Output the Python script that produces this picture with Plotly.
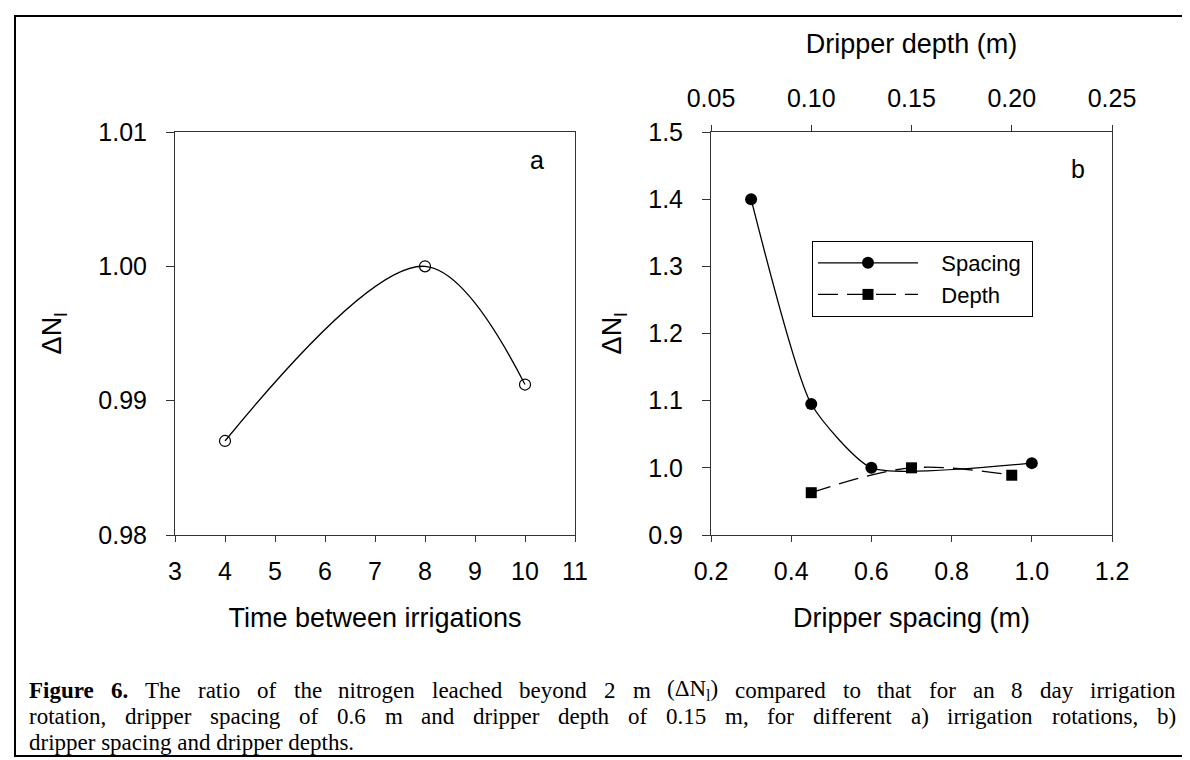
import plotly.graph_objects as go

# ---- data ----
time_days = [4, 8, 10]
ratio_time = [0.987, 1.000, 0.9912]

spacing_m = [0.3, 0.45, 0.6, 1.0]
ratio_spacing = [1.400, 1.095, 1.000, 1.007]

depth_m = [0.10, 0.15, 0.20]
ratio_depth = [0.963, 1.000, 0.989]

W, H = 1190, 760
def px(x): return x / W
def py(y): return 1 - y / H

SANS = "Liberation Sans, Arial, sans-serif"
SERIF = "Liberation Serif, Times New Roman, serif"
AX = dict(family=SANS, size=25, color="black")
TITLE = dict(family=SANS, size=27, color="black")
LINEC = "#333333"

fig = go.Figure()

fig.add_trace(go.Scatter(x=time_days, y=ratio_time, mode="lines+markers",
                         line=dict(color="black", width=1.3, shape="spline", smoothing=1.0),
                         marker=dict(symbol="circle-open", size=11, color="black", line=dict(width=1.2)),
                         showlegend=False, xaxis="x", yaxis="y"))

fig.add_trace(go.Scatter(x=spacing_m, y=ratio_spacing, mode="lines+markers",
                         name="\u00a0\u00a0\u00a0Spacing\u00a0",
                         line=dict(color="black", width=1.3, shape="spline", smoothing=0.55),
                         marker=dict(symbol="circle", size=12, color="black"),
                         xaxis="x2", yaxis="y2"))

fig.add_trace(go.Scatter(x=depth_m, y=ratio_depth, mode="lines+markers",
                         name="\u00a0\u00a0\u00a0Depth",
                         line=dict(color="black", width=1.3, dash="20px,9px", shape="spline", smoothing=1.0),
                         marker=dict(symbol="square", size=11, color="black"),
                         xaxis="x3", yaxis="y2"))

common = dict(showline=True, linecolor=LINEC, linewidth=1, tickcolor=LINEC,
              showgrid=False, zeroline=False, tickfont=AX, automargin=False)

ya = [124, 527]
fig.update_layout(
    width=W, height=H,
    margin=dict(l=0, r=0, t=0, b=0),
    paper_bgcolor="white", plot_bgcolor="white",
    font=AX,
    xaxis=dict(domain=[px(167), px(567)], range=[3, 11], dtick=1, anchor="y", mirror=True,
               ticks="outside", ticklen=6, ticklabelstandoff=8,
               title=dict(text="Time between irrigations", font=TITLE, standoff=24), **common),
    yaxis=dict(domain=[py(ya[1]), py(ya[0])], range=[0.98, 1.01], dtick=0.01, tickformat=".2f",
               anchor="x", mirror=True, ticks="outside", ticklen=8, ticklabelstandoff=14,
               title=dict(text="ΔN<sub>l</sub>", font=TITLE, standoff=28), **common),
    xaxis2=dict(domain=[px(703), px(1104)], range=[0.2, 1.2], dtick=0.2, tickformat=".1f", anchor="y2",
                ticks="outside", ticklen=6, ticklabelstandoff=8,
                title=dict(text="Dripper spacing (m)", font=TITLE, standoff=24), **common),
    xaxis3=dict(overlaying="x2", side="top", range=[0.05, 0.25], dtick=0.05, tickformat=".2f",
                anchor="y2", ticks="outside", ticklen=6, ticklabelstandoff=8,
                title=dict(text="Dripper depth (m)", font=TITLE, standoff=22), **common),
    yaxis2=dict(domain=[py(ya[1]), py(ya[0])], range=[0.9, 1.5], dtick=0.1, tickformat=".1f",
                anchor="x2", mirror=True, ticks="outside", ticklen=8, ticklabelstandoff=14,
                title=dict(text="ΔN<sub>l</sub>", font=TITLE, standoff=18), **common),
    legend=dict(x=px(804), y=py(233), xanchor="left", yanchor="top",
                bordercolor="black", borderwidth=1, bgcolor="white",
                font=dict(family=SANS, size=22, color="black"),
                itemwidth=100, tracegroupgap=0),
    shapes=[dict(type="rect", xref="paper", yref="paper", x0=px(7), x1=px(1183), y0=py(748), y1=py(8),
                 line=dict(color="black", width=2), fillcolor="rgba(0,0,0,0)", layer="below")],
    annotations=[
        dict(text="a", x=px(529), y=py(152), xref="paper", yref="paper", showarrow=False,
             xanchor="center", yanchor="middle", font=dict(family=SANS, size=25, color="black")),
        dict(text="b", x=px(1070), y=py(161), xref="paper", yref="paper", showarrow=False,
             xanchor="center", yanchor="middle", font=dict(family=SANS, size=25, color="black")),
    ],
)

# ---- caption, justified word by word like the original ----
caption_lines = [
    "<b>Figure</b> <b>6.</b> The ratio of the nitrogen leached beyond 2 m (ΔN<sub>l</sub>) compared to that for an 8 day irrigation",
    "rotation, dripper spacing of 0.6 m and dripper depth of 0.15 m, for different a) irrigation rotations, b)",
    "dripper spacing and dripper depths.",
]
justify = [True, True, False]
caption_y = [682, 708, 734]
CAP_SIZE = 23
CAP_LEFT, CAP_RIGHT = 21, 1168

# Times / Liberation Serif advance widths (per 1000 em)
TW = {" ": 250, "(": 333, ")": 333, ",": 250, ".": 250, "Δ": 612, "N": 722, "F": 556, "T": 611}
TW.update({d: 500 for d in "0123456789"})
TW.update(dict(a=444, b=500, c=444, d=500, e=444, f=333, g=500, h=500, i=278, j=278, k=500, l=278,
               m=778, n=500, o=500, p=500, q=500, r=333, s=389, t=278, u=500, v=500, w=722, x=500,
               y=500, z=444))
TB = dict(TW); TB.update({"F": 611, "u": 556, "r": 444})

def text_width(chunk, size):
    total = 0.0
    bold = False
    i = 0
    while i < len(chunk):
        if chunk.startswith("<b>", i): bold = True; i += 3; continue
        if chunk.startswith("</b>", i): bold = False; i += 4; continue
        if chunk.startswith("<sub>", i):
            j = chunk.index("</sub>", i)
            total += sum(TW.get(c, 500) for c in chunk[i + 5:j]) * 0.7
            i = j + 6; continue
        total += (TB if bold else TW).get(chunk[i], 500)
        i += 1
    return total * size / 1000.0

for line, yy, just in zip(caption_lines, caption_y, justify):
    words = line.split(" ") if just else [line]
    widths = [text_width(w, CAP_SIZE) for w in words]
    gap = (CAP_RIGHT - CAP_LEFT - sum(widths)) / (len(words) - 1) if len(words) > 1 else 0
    xcur = CAP_LEFT
    for wd, w in zip(words, widths):
        fig.add_annotation(text=wd, x=px(xcur + w / 2), y=py(yy), xref="paper", yref="paper",
                           xanchor="center", yanchor="middle", showarrow=False,
                           font=dict(family=SERIF, size=CAP_SIZE, color="black"))
        xcur += w + gap

fig.write_html("out.html")
